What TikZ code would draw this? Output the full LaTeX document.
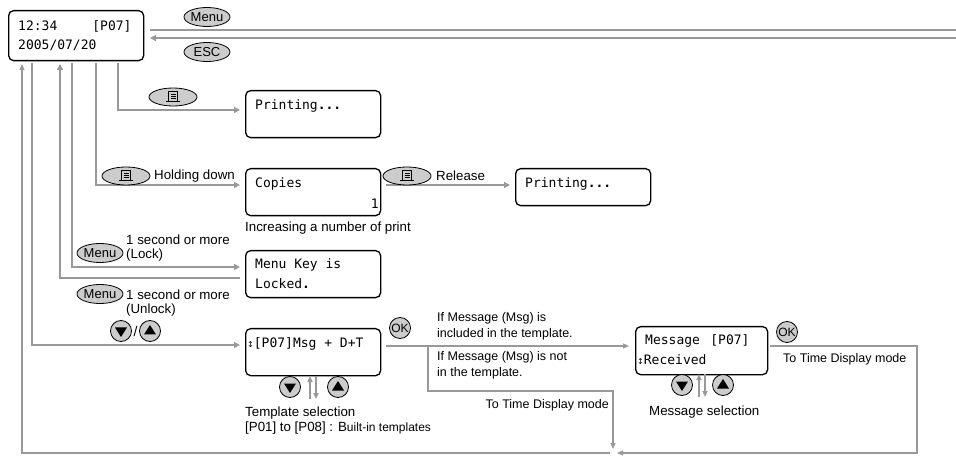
\documentclass[tikz,border=0pt]{standalone}
\usepackage{fontspec}
\setmainfont{Liberation Sans}
\newfontfamily\monof{DejaVu Sans Mono}
\newfontfamily\dejav{DejaVu Sans}
\usetikzlibrary{arrows.meta,shapes.geometric}
\begin{document}
\begin{tikzpicture}[x=1pt,y=-1pt,
  conn/.style={draw=black!40,line width=2pt},
  arr/.style={conn,-{Triangle[length=6pt,width=6pt]}},
  thin/.style={draw=black!40,line width=1.2pt},
  tarr/.style={thin,-{Triangle[length=6pt,width=5pt]}},
  lcd/.style={draw,line width=1.3pt,rounded corners=5pt,minimum width=135pt,minimum height=47pt,anchor=north west,inner sep=0pt},
  mono/.style={font=\monof\fontsize{13}{15}\selectfont,anchor=west,inner sep=0pt},
  txt/.style={font=\fontsize{13.3}{15}\selectfont,anchor=west,inner sep=0pt},
  okey/.style={draw,fill=black!20,shape=ellipse,line width=0.8pt,minimum width=46pt,minimum height=19pt,inner sep=0pt,font=\fontsize{13}{13}\selectfont},
  rkey/.style={draw,fill=black!20,circle,line width=0.8pt,inner sep=0pt,minimum size=21pt},
]
\useasboundingbox (0,0) rectangle (956,462);
% main display
\node[lcd,minimum height=50pt] (main) at (8,10) {};
\node[mono] (m1) at (18,26) {12:34\hspace{2.7em}[P07]};
\node[mono] (m2) at (18,45) {2005/07/20};
% top lines
\coordinate (r1) at (956,30); \coordinate (r2) at (956,38);
\coordinate (l1) at (150,30); \coordinate (l2) at (150,38);
\draw[conn] (l1) -- (r1);
\draw[arr] (r2) -- (l2);
\node[okey] (kmenu) at (207,17) {Menu};
\node[okey] (kesc) at (207,52) {ESC};
% boxes
\node[lcd] (pr1) at (245,90) {};
\node[mono] (pr1t) at (255,106) {Printing\textbf{...}};
\node[lcd] (cop) at (245,168) {};
\node[mono] (copt) at (255,184) {Copies};
\node[mono,anchor=east] (copn) at (379,204) {1};
\node[lcd,minimum height=37pt] (pr2) at (515,168) {};
\node[mono] (pr2t) at (525,184) {Printing\textbf{...}};
\node[lcd] (lock) at (245,250) {};
\node[mono] (lk1) at (255,265) {Menu Key is};
\node[mono] (lk2) at (255,284) {Locked\textbf{.}};
\node[lcd] (tmp) at (245,328) {};
\node[mono] (tmpt) at (247,344) {{\dejav\fontsize{8}{8}\selectfont↕}[P07]Msg + D+T};
\node[lcd,minimum width=132pt,minimum height=48pt] (msg) at (635,326) {};
\node[mono] (ms1) at (645,341) {Message\hspace{0.8em}[P07]};
\node[mono] (ms2) at (637,360) {{\dejav\fontsize{8}{8}\selectfont↕}Received};
% connectors from main
\coordinate (a118) at (118,63); \coordinate (b118) at (118,110); \coordinate (e1) at (240,110);
\draw[arr] (a118) -- (b118) -- (e1);
\coordinate (a96) at (96,63); \coordinate (b96) at (96,185); \coordinate (e2) at (240,185);
\draw[arr] (a96) -- (b96) -- (e2);
\coordinate (c1) at (386,185); \coordinate (c2) at (510,185);
\draw[arr] (c1) -- (c2);
\coordinate (a72) at (72,63); \coordinate (b72) at (72,267); \coordinate (e3) at (240,267);
\draw[arr] (a72) -- (b72) -- (e3);
\coordinate (a60) at (60,64); \coordinate (b60) at (60,278); \coordinate (e4) at (240,278);
\draw[arr] (e4) -- (b60) -- (a60);
\coordinate (a32) at (32,63); \coordinate (b32) at (32,345); \coordinate (e5) at (240,345);
\draw[arr] (a32) -- (b32) -- (e5);
% OK branches
\coordinate (t1) at (386,346); \coordinate (t2) at (629,346);
\draw[tarr] (t1) -- (t2);
\coordinate (u1) at (428,346); \coordinate (u2) at (428,391); \coordinate (u3) at (613,391); \coordinate (u4) at (613,449);
\draw[tarr] (u1) -- (u2) -- (u3) -- (u4);
\coordinate (v1) at (770,346); \coordinate (v2) at (917,346); \coordinate (v3) at (917,453); \coordinate (v4) at (617,453);
\draw[tarr] (v1) -- (v2) -- (v3) -- (v4);
\coordinate (w1) at (610,453); \coordinate (w2) at (22,453); \coordinate (w3) at (22,64);
\draw[tarr] (w1) -- (w2) -- (w3);
% keys with print icon
\foreach \n/\x/\y in {kp1/173/97,kp2/126/176,kp3/407/176}{
  \node[draw,fill=black!20,shape=ellipse,line width=0.8pt,minimum width=48pt,minimum height=18pt,inner sep=0pt] (\n) at (\x,\y) {};
  \draw[line width=0.7pt] (\x-4.5,\y-6) rectangle (\x+4.5,\y+4);
  \draw[line width=0.6pt] (\x-2.5,\y-3)--(\x+2.5,\y-3) (\x-2.5,\y-1)--(\x+2.5,\y-1) (\x-2.5,\y+1)--(\x+2.5,\y+1);
  \draw[line width=0.9pt] (\x-7,\y+4.5)--(\x+7,\y+4.5);
}
\node[txt] (hd) at (154,176) {Holding down};
\node[txt] (rel) at (436,176) {Release};
\node[txt] (inc) at (245,228) {Increasing a number of print};
\node[okey] (kml) at (100,253) {Menu};
\node[txt] (l1t) at (126,240) {1 second or more};
\node[txt] (l2t) at (126,255) {(Lock)};
\node[okey] (kmu) at (100,294) {Menu};
\node[txt] (u1t) at (126,295) {1 second or more};
\node[txt] (u2t) at (126,310) {(Unlock)};
% arrow keys
\newcommand\dnkey[3]{\node[rkey] (#1) at (#2,#3) {}; \fill (#2-6,#3-3.5)--(#2+6,#3-3.5)--(#2,#3+6)--cycle;}
\newcommand\upkey[3]{\node[rkey] (#1) at (#2,#3) {}; \fill (#2-6,#3+3.5)--(#2+6,#3+3.5)--(#2,#3-6)--cycle;}
\dnkey{kd1}{121}{331}\upkey{ku1}{150}{331}
\node[font=\fontsize{14}{14}\selectfont,inner sep=0pt] (sl) at (135.5,331) {/};
\dnkey{kd2}{290}{387}\upkey{ku2}{338}{387}
\coordinate (p1) at (310,399); \coordinate (p2) at (310,376);
\coordinate (q1) at (316,376); \coordinate (q2) at (316,399);
\draw[tarr,line width=1.5pt] (p1)--(p2); \draw[tarr,line width=1.5pt] (q1)--(q2);
\node[txt] (ts) at (245,413) {Template selection};
\node[txt] (tp) at (245,428) {[P01] to [P08] : B{\fontsize{12}{12}\selectfont uilt-in templates}};
\dnkey{kd3}{682}{385}\upkey{ku3}{723}{385}
\coordinate (p3) at (699,397); \coordinate (p4) at (699,374);
\coordinate (q3) at (705,374); \coordinate (q4) at (705,397);
\draw[tarr,line width=1.5pt] (p3)--(p4); \draw[tarr,line width=1.5pt] (q3)--(q4);
\node[txt] (msel) at (649,412) {Message selection};
\node[rkey,font=\fontsize{12}{12}\selectfont] (ok1) at (400,328) {OK};
\node[rkey,font=\fontsize{12}{12}\selectfont] (ok2) at (787,332) {OK};
\node[txt,font=\fontsize{12.5}{14}\selectfont] (i1) at (437,318) {If Message (Msg) is};
\node[txt,font=\fontsize{12.5}{14}\selectfont] (i2) at (437,334) {included in the template.};
\node[txt,font=\fontsize{12.5}{14}\selectfont] (n1) at (437,357) {If Message (Msg) is not};
\node[txt,font=\fontsize{12.5}{14}\selectfont] (n2) at (437,373) {in the template.};
\node[txt,font=\fontsize{12.5}{14}\selectfont,anchor=east] (td1) at (609,405) {To Time Display mode};
\node[txt,font=\fontsize{12.5}{14}\selectfont] (td2) at (783,359) {To Time Display mode};
\end{tikzpicture}
\end{document}
